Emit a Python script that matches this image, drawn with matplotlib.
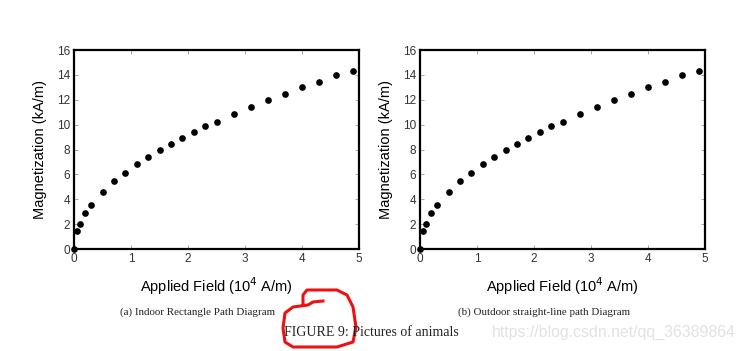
import matplotlib
matplotlib.use("Agg")
import matplotlib.pyplot as plt
from matplotlib.lines import Line2D

# applied field (10^4 A/m) and magnetization (kA/m)
field = [0, 0.05, 0.1, 0.2, 0.3, 0.5, 0.7, 0.9, 1.1, 1.3, 1.5, 1.7, 1.9,
         2.1, 2.3, 2.5, 2.8, 3.1, 3.4, 3.7, 4.0, 4.3, 4.6, 4.9]
magnet = [0, 1.45, 2.05, 2.9, 3.55, 4.6, 5.45, 6.15, 6.8, 7.4, 7.95, 8.45,
          8.95, 9.4, 9.85, 10.25, 10.85, 11.45, 12.0, 12.5, 13.0, 13.45,
          13.95, 14.35]

captions = ["(a) Indoor Rectangle Path Diagram",
            "(b) Outdoor straight-line path Diagram"]
xticks = [0, 1, 2, 3, 4, 5]
yticks = [0, 2, 4, 6, 8, 10, 12, 14, 16]

W, H = 746, 351
fig = plt.figure(figsize=(W / 100, H / 100), dpi=100)
plt.rcParams['font.family'] = ['Liberation Sans', 'DejaVu Sans']

lefts = [74, 420]
for left, cap in zip(lefts, captions):
    ax = fig.add_axes([left / W, 1 - 249 / H, 285 / W, 199 / H])
    ax.plot(field, magnet, 'o', color='black', markersize=3.8, clip_on=False)
    ax.set_xlim(0, 5)
    ax.set_ylim(0, 16)
    ax.set_xticks(xticks)
    ax.set_yticks(yticks)
    ax.tick_params(direction='in', length=3, width=0.6, color='#999999',
                   labelsize=8.5, labelcolor='#333333', top=True, right=True,
                   pad=3)
    for s in ax.spines.values():
        s.set_linewidth(1.6)
    ax.set_xlabel("Applied Field (10$^4$ A/m)", fontsize=10.5, labelpad=7.5)
    ax.set_ylabel("Magnetization (kA/m)", fontsize=10.5, labelpad=7)
    fig.text((left + 124) / W, 1 - 312 / H, cap, ha='center', va='center',
             fontsize=7.9, family='Liberation Serif', color='#222222')

fig.text(371 / W, 1 - 332 / H, "FIGURE 9: Pictures of animals", ha='center',
         va='center', fontsize=10, family='Liberation Serif', color='#222222')
fig.text(736 / W, 1 - 332 / H, "https://blog.csdn.net/qq_36389864",
         ha='right', va='center', fontsize=11.4, color='#e2e2e2')

# red hand-drawn scribble
sx = [323, 313, 308, 293, 285, 283, 285, 293, 337, 353, 356, 353, 347, 337,
      307, 303, 303]
sy = [301, 302, 305, 307, 313, 328, 342, 347, 347, 342, 327, 307, 295, 290,
      290, 295, 303]
fig.add_artist(Line2D([x / W for x in sx], [1 - y / H for y in sy],
                      color='#ee1111', linewidth=2.2, transform=fig.transFigure))

fig.savefig("out.png", dpi=100)
